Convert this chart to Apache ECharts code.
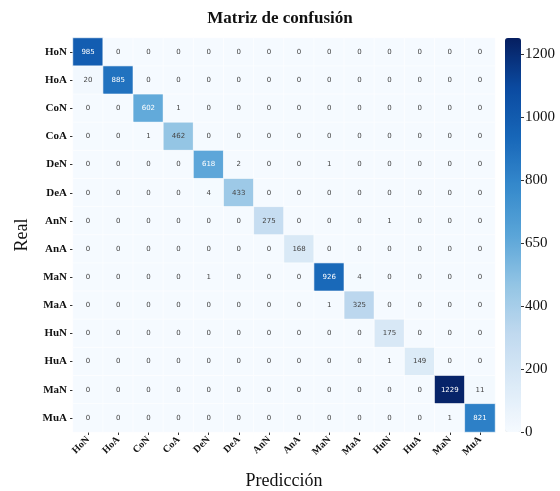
<!DOCTYPE html>
<html>
<head>
<meta charset="utf-8">
<script src="https://cdn.jsdelivr.net/npm/echarts@6/dist/echarts.min.js"></script>
<style>
  html, body { margin: 0; padding: 0; background: #fff; }
  #chart { width: 560px; height: 491px; }
</style>
</head>
<body>
<div id="chart"></div>
<script>
// Class labels (true class on rows, predicted class on columns)
const predLabels = ['HoN', 'HoA', 'CoN', 'CoA', 'DeN', 'DeA', 'AnN', 'AnA', 'MaN', 'MaA', 'HuN', 'HuA', 'MaN', 'MuA'];
const realLabels = ['HoN', 'HoA', 'CoN', 'CoA', 'DeN', 'DeA', 'AnN', 'AnA', 'MaN', 'MaA', 'HuN', 'HuA', 'MaN', 'MuA'];

// Confusion counts, one array per true class
const rowHoN = [985, 0, 0, 0, 0, 0, 0, 0, 0, 0, 0, 0, 0, 0];
const rowHoA = [20, 885, 0, 0, 0, 0, 0, 0, 0, 0, 0, 0, 0, 0];
const rowCoN = [0, 0, 602, 1, 0, 0, 0, 0, 0, 0, 0, 0, 0, 0];
const rowCoA = [0, 0, 1, 462, 0, 0, 0, 0, 0, 0, 0, 0, 0, 0];
const rowDeN = [0, 0, 0, 0, 618, 2, 0, 0, 1, 0, 0, 0, 0, 0];
const rowDeA = [0, 0, 0, 0, 4, 433, 0, 0, 0, 0, 0, 0, 0, 0];
const rowAnN = [0, 0, 0, 0, 0, 0, 275, 0, 0, 0, 1, 0, 0, 0];
const rowAnA = [0, 0, 0, 0, 0, 0, 0, 168, 0, 0, 0, 0, 0, 0];
const rowMaN = [0, 0, 0, 0, 1, 0, 0, 0, 926, 4, 0, 0, 0, 0];
const rowMaA = [0, 0, 0, 0, 0, 0, 0, 0, 1, 325, 0, 0, 0, 0];
const rowHuN = [0, 0, 0, 0, 0, 0, 0, 0, 0, 0, 175, 0, 0, 0];
const rowHuA = [0, 0, 0, 0, 0, 0, 0, 0, 0, 0, 1, 149, 0, 0];
const rowMuN = [0, 0, 0, 0, 0, 0, 0, 0, 0, 0, 0, 0, 1229, 11];
const rowMuA = [0, 0, 0, 0, 0, 0, 0, 0, 0, 0, 0, 0, 1, 821];

const rows = [rowHoN, rowHoA, rowCoN, rowCoA, rowDeN, rowDeA, rowAnN, rowAnA,
              rowMaN, rowMaA, rowHuN, rowHuA, rowMuN, rowMuA];

// Colour bar scale and its tick labels
const colorMax = 1250;
const barTicks = [0, 200, 400, 600, 800, 1000, 1200];
const barTickLabels = ['0', '200', '400', '650', '800', '1000', '1200'];

// blue sequential ramp, light to dark
const blues = ['#f5faff', '#dbeaf7', '#c0d9ef', '#92c4e4', '#5aa5d8', '#3589cc', '#1766b8', '#0b4aa0', '#061e60'];

const cells = [];
rows.forEach((row, r) => row.forEach((v, c) => cells.push({
  value: [c, r, v],
  label: { color: v > 550 ? '#fff' : '#444' }
})));

const serif = '"Liberation Serif", "DejaVu Serif", serif';

const chart = echarts.init(document.getElementById('chart'), null, { renderer: 'canvas' });
chart.setOption({
  animation: false,
  backgroundColor: '#fff',
  title: {
    text: 'Matriz de confusión',
    left: 'center',
    top: 5,
    textStyle: { fontFamily: serif, fontSize: 17, fontWeight: 'bold', color: '#111' }
  },
  grid: [
    { left: 73, top: 38, width: 422, height: 394, outerBoundsMode: 'none', containLabel: false },
    { left: 505, top: 38, width: 16, height: 394, outerBoundsMode: 'none', containLabel: false }
  ],
  xAxis: [
    {
      type: 'category', gridIndex: 0, data: predLabels,
      name: 'Predicción', nameLocation: 'middle', nameGap: 40,
      nameTextStyle: { fontFamily: serif, fontSize: 18, color: '#111' },
      axisLine: { show: false },
      axisTick: { show: true, alignWithLabel: true, length: 3, lineStyle: { color: '#333' } },
      axisLabel: { rotate: 45, margin: 6, fontFamily: serif, fontSize: 10, fontWeight: 'bold', color: '#111' },
      splitLine: { show: false }
    },
    { type: 'category', gridIndex: 1, data: [''], show: false }
  ],
  yAxis: [
    {
      type: 'category', gridIndex: 0, data: realLabels, inverse: true,
      name: 'Real', nameLocation: 'middle', nameGap: 42, nameRotate: 90,
      nameTextStyle: { fontFamily: serif, fontSize: 18, color: '#111' },
      axisLine: { show: false },
      axisTick: { show: true, alignWithLabel: true, length: 3, lineStyle: { color: '#333' } },
      axisLabel: { margin: 6, fontFamily: serif, fontSize: 11, fontWeight: 'bold', color: '#111' },
      splitLine: { show: false }
    },
    {
      type: 'value', gridIndex: 1, position: 'right', min: 0, max: colorMax, interval: 200,
      axisLine: { show: false },
      axisTick: { show: true, length: 3, lineStyle: { color: '#333' } },
      axisLabel: {
        margin: 4, fontFamily: serif, fontSize: 15, color: '#111', showMaxLabel: false,
        formatter: v => { const i = barTicks.indexOf(v); return i >= 0 ? barTickLabels[i] : ''; }
      },
      splitLine: { show: false }
    }
  ],
  visualMap: {
    type: 'continuous', min: 0, max: colorMax, seriesIndex: 0,
    orient: 'vertical', left: 505, top: 38, itemWidth: 16, itemHeight: 394,
    padding: 0, calculable: false, text: null, showLabel: false,
    inRange: { color: blues }
  },
  series: [
    {
      type: 'heatmap', xAxisIndex: 0, yAxisIndex: 0, data: cells,
      itemStyle: { borderColor: '#fff', borderWidth: 0.6 },
      label: {
        show: true, fontSize: 7, fontFamily: '"DejaVu Sans", sans-serif',
        formatter: p => String(p.value[2])
      }
    }
  ]
});
</script>
</body>
</html>
